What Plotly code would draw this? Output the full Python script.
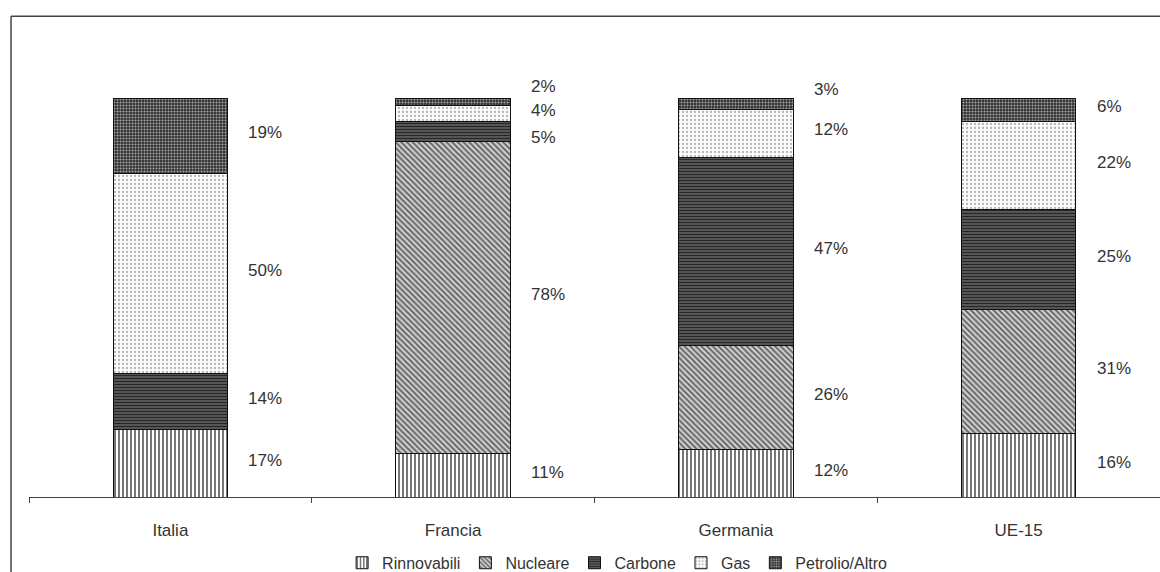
import plotly.graph_objects as go

categories = ["Italia", "Francia", "Germania", "UE-15"]
series_names = ["Rinnovabili", "Nucleare", "Carbone", "Gas", "Petrolio/Altro"]
rinnovabili = [17, 11, 12, 16]
nucleare = [0, 78, 26, 31]
carbone = [14, 5, 47, 25]
gas = [50, 4, 12, 22]
petrolio = [19, 2, 3, 6]

values = [rinnovabili, nucleare, carbone, gas, petrolio]

styles = [
    dict(shape="|", fgcolor="#1a1a1a", bgcolor="#ffffff", size=4, solidity=0.3),
    dict(shape="\\", fgcolor="#5e5e5e", bgcolor="#cfcfcf", size=4, solidity=0.45),
    dict(shape="-", fgcolor="#262626", bgcolor="#666666", size=3, solidity=0.5),
    dict(shape=".", fgcolor="#b4b4b4", bgcolor="#fbfbfb", size=4, solidity=0.25),
    dict(shape=".", fgcolor="#a8a8a8", bgcolor="#333333", size=3, solidity=0.35),
]

# small vertical nudges (pixels) for crowded labels: (category index, series index)
label_nudge = {(1, 4): 12, (1, 3): 0, (1, 2): -9, (2, 4): 11, (2, 3): 1}

fig = go.Figure()
for name, vals, st in zip(series_names, values, styles):
    fig.add_trace(go.Bar(
        x=categories, y=vals, name=name,
        marker=dict(color=st["bgcolor"], line=dict(color="#111111", width=1),
                    pattern=dict(shape=st["shape"], fgcolor=st["fgcolor"], bgcolor=st["bgcolor"],
                                 size=st["size"], solidity=st["solidity"], fillmode="replace")),
        hoverinfo="skip",
    ))

annotations = []
for ci, cat in enumerate(categories):
    base = 0
    for si, vals in enumerate(values):
        v = vals[ci]
        if v > 0:
            annotations.append(dict(
                x=cat, y=base + v / 2, xref="x", yref="y", text=f"{v}%",
                showarrow=False, xanchor="left", yanchor="middle", xshift=76,
                yshift=3 + label_nudge.get((ci, si), 0),
                font=dict(family="Liberation Sans, Arial", size=17, color="#333333"),
            ))
        base += v

fig.update_layout(
    width=1160, height=572,
    margin=dict(l=29, r=0, t=98, b=75, autoexpand=False),
    barmode="stack", bargap=0.595,
    plot_bgcolor="white", paper_bgcolor="white",
    font=dict(family="Liberation Sans, Arial", size=17, color="#333333"),
    annotations=annotations,
    showlegend=True,
    legend=dict(orientation="h", x=0.52, xanchor="center", yref="container", y=0.016,
                yanchor="middle",
                font=dict(size=16, color="#333333"), itemwidth=30, traceorder="normal",
                bgcolor="rgba(0,0,0,0)"),
    xaxis=dict(showline=True, linecolor="#444444", linewidth=1, ticks="outside", ticklen=5,
               tickcolor="#444444", tickson="boundaries", ticklabelstandoff=18,
               automargin=False,
               showgrid=False, tickfont=dict(size=17, color="#333333")),
    yaxis=dict(range=[0, 100], visible=False, showgrid=False, automargin=False),
    shapes=[
        dict(type="line", xref="paper", yref="paper", x0=-0.0159, x1=1.01, y0=1.205, y1=1.205,
             line=dict(color="#444444", width=1.5)),
        dict(type="line", xref="paper", yref="paper", x0=-0.0159, x1=-0.0159, y0=1.205, y1=-0.25,
             line=dict(color="#444444", width=1.5)),
    ],
)

fig.write_html("out.html")
